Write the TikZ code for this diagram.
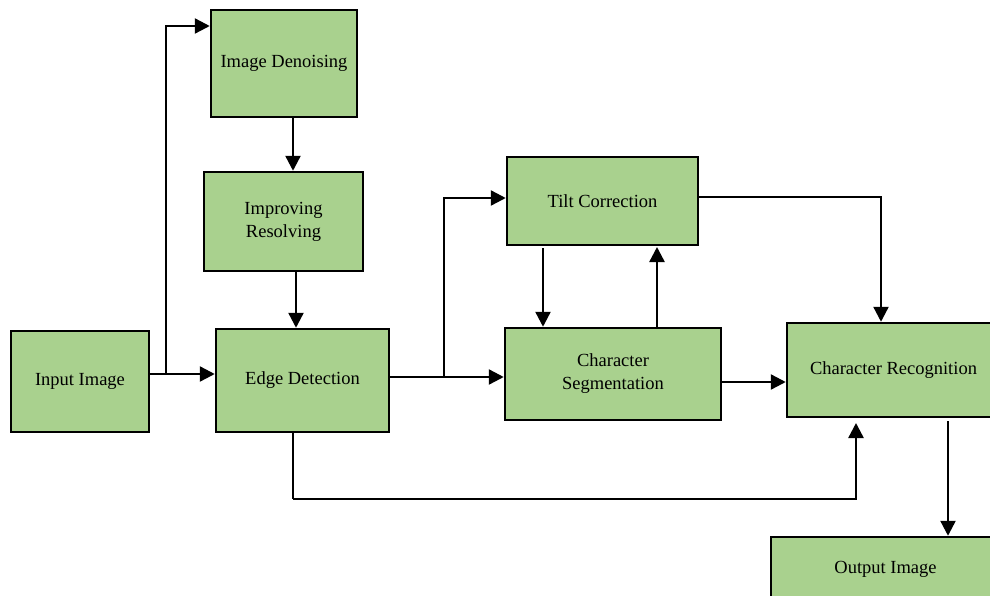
\documentclass[tikz,border=0pt]{standalone}
\usepackage{fontspec}
\setmainfont{Liberation Serif}
\usetikzlibrary{arrows.meta}
\definecolor{boxgreen}{HTML}{A9D18E}
\tikzset{
  blk/.style={draw=black, line width=2.5pt, fill=boxgreen, inner sep=0pt, align=center,
    font=\fontsize{18.5}{23}\selectfont},
  arr/.style={line width=2.4pt, -{Triangle[length=15pt,width=15pt]}},
  ln/.style={line width=2.4pt},
}
\begin{document}
\begin{tikzpicture}[x=1pt,y=-1pt]
\useasboundingbox (0,0) rectangle (990,595);
\clip (0,0) rectangle (990,595);
\node[blk, minimum width=146pt, minimum height=107pt] (den) at (284,63.5) {Image Denoising};
\node[blk, minimum width=159pt, minimum height=99pt] (imp) at (283.5,221.5) {Improving\\Resolving};
\node[blk, minimum width=138pt, minimum height=101pt] (inp) at (80,381.5) {Input Image};
\node[blk, minimum width=173pt, minimum height=103pt] (edge) at (302.5,380.5) {Edge Detection};
\node[blk, minimum width=191pt, minimum height=88pt] (tilt) at (602.5,201) {Tilt Correction};
\node[blk, minimum width=216pt, minimum height=92pt] (seg) at (613,374) {Character\\Segmentation};
\node[blk, minimum width=213pt, minimum height=94pt] (rec) at (893.5,370) {Character Recognition};
\node[blk, minimum width=229pt, minimum height=65pt] (out) at (885.5,569.5) {Output Image};
% junctions
\coordinate (j1) at (166,374);
\coordinate (j2) at (166,26);
\coordinate (a1) at (293,0);
\coordinate (a2) at (296,0);
\coordinate (j3) at (444,377);
\coordinate (j4) at (444,198);
\coordinate (t1) at (543,248);
\coordinate (t2) at (657,247);
\coordinate (k1) at (881,197);
\coordinate (s1) at (0,382);
\coordinate (e1) at (293,499);
\coordinate (e2) at (856,499);
\coordinate (e3) at (856,423);
\coordinate (r1) at (948,421);
% connectors
\draw[ln] (inp.east|-j1) -- (j1);
\draw[arr] (j1) -- (edge.west|-j1);
\draw[arr] (j1) -- (j2) -- (den.west|-j2);
\draw[arr] (den.south-|a1) -- (imp.north-|a1);
\draw[arr] (imp.south-|a2) -- (edge.north-|a2);
\draw[ln] (edge.east|-j3) -- (j3);
\draw[arr] (j3) -- (seg.west|-j3);
\draw[arr] (j3) -- (j4) -- (tilt.west|-j4);
\draw[arr] (t1) -- (seg.north-|t1);
\draw[arr] (seg.north-|t2) -- (t2);
\draw[arr] (tilt.east|-k1) -- (k1) -- (rec.north-|k1);
\draw[arr] (seg.east|-s1) -- (rec.west|-s1);
\draw[line width=1.5pt] (edge.south-|e1) -- (e1);
\draw[arr] (e1) -- (e2) -- (e3);
\draw[arr] (r1) -- (out.north-|r1);
\end{tikzpicture}
\end{document}
